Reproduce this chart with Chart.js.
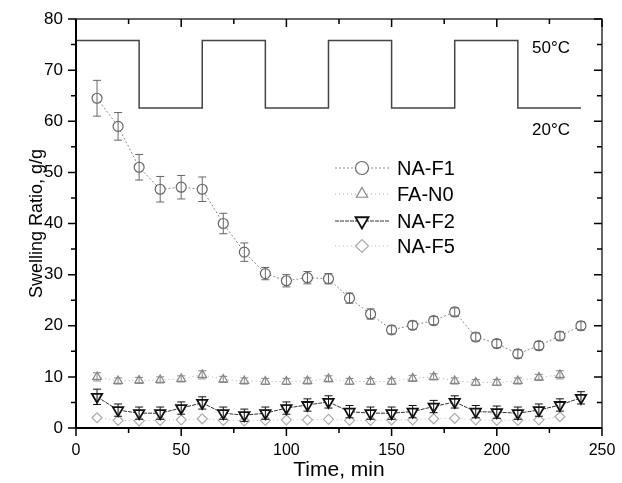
<!DOCTYPE html>
<html>
<head>
<meta charset="utf-8">
<script src="https://cdn.jsdelivr.net/npm/chart.js@4/dist/chart.umd.min.js"></script>
<style>
  html, body { margin: 0; padding: 0; background: #fff; }
  #wrap { width: 622px; height: 483px; }
</style>
</head>
<body>
<div id="wrap"><canvas id="chart" width="622" height="483"></canvas></div>
<script>
// --- data ---
const times = [10, 20, 30, 40, 50, 60, 70, 80, 90, 100, 110, 120,
               130, 140, 150, 160, 170, 180, 190, 200, 210, 220, 230, 240];

const naF1 = [64.5, 59, 51, 46.7, 47.1, 46.7, 40, 34.4, 30.2, 28.8, 29.4, 29.2,
              25.4, 22.3, 19.2, 20.1, 21, 22.7, 17.8, 16.5, 14.5, 16.1, 18, 20];
const naF1Err = [3.5, 2.7, 2.5, 2.5, 2.3, 2.4, 2, 1.8, 1.2, 1.2, 1.2, 1,
                 1, 1, 0.8, 0.8, 0.8, 0.8, 0.8, 0.8, 0.8, 0.8, 0.8, 0.8];

const faN0 = [10, 9.2, 9.3, 9.4, 9.6, 10.4, 9.5, 9.2, 9.1, 9.1, 9.2, 9.6,
              9.1, 9.1, 9.1, 9.7, 10, 9.2, 8.9, 8.9, 9.2, 9.9, 10.4];
const faN0Err = [0.8, 0.6, 0.6, 0.6, 0.6, 0.8, 0.6, 0.6, 0.6, 0.6, 0.6, 0.6,
                 0.6, 0.6, 0.6, 0.6, 0.6, 0.6, 0.6, 0.6, 0.6, 0.6, 0.8];

const naF2 = [6.1, 3.5, 2.9, 2.9, 3.9, 4.9, 2.9, 2.5, 2.9, 3.9, 4.5, 5.1,
              3.2, 2.9, 2.9, 3.2, 4.2, 5.1, 3.2, 3.1, 2.9, 3.5, 4.5, 5.9];
const naF2Err = [1.5, 1.2, 1.2, 1.2, 1.2, 1.2, 1.2, 1.2, 1.2, 1.2, 1.2, 1.2,
                 1.2, 1.2, 1.2, 1.2, 1.2, 1.2, 1.2, 1.2, 1.2, 1.2, 1.2, 1.2];

const naF5 = [2.0, 1.5, 1.4, 1.5, 1.6, 1.8, 1.5, 1.4, 1.5, 1.6, 1.6, 1.7,
              1.5, 1.5, 1.6, 1.6, 1.8, 1.9, 1.6, 1.5, 1.5, 1.6, 2.2];

// temperature program (stepped), 50 C high / 20 C low
const tempTimes = [0, 30, 60, 90, 120, 150, 180, 210, 240];
const tempLevels = [75.8, 62.6, 75.8, 62.6, 75.8, 62.6, 75.8, 62.6, 62.6];
const tempLabels = ['50°C', '20°C'];

const xTicks = [0, 50, 100, 150, 200, 250];
const yTicks = [0, 10, 20, 30, 40, 50, 60, 70, 80];

const FONT = '"Liberation Sans", Arial, sans-serif';

function pts(vals) {
    return vals.map((v, i) => ({ x: times[i], y: v }));
}

// frame, Origin-style ticks, error bars, legend and temperature labels
const decor = {
    id: 'decor',
    afterDatasetsDraw(chart) {
        const ctx = chart.ctx;
        const xs = chart.scales.x, ys = chart.scales.y;
        const a = chart.chartArea;

        // error bars
        const errs = { 1: naF1Err, 2: faN0Err, 3: naF2Err };
        Object.keys(errs).forEach(k => {
            const ds = chart.data.datasets[k];
            const e = errs[k];
            ctx.save();
            ctx.strokeStyle = ds.pointBorderColor;
            ctx.lineWidth = 1;
            ds.data.forEach((p, i) => {
                const px = xs.getPixelForValue(p.x);
                const top = ys.getPixelForValue(p.y + e[i]);
                const bot = ys.getPixelForValue(p.y - e[i]);
                ctx.beginPath();
                ctx.moveTo(px, top); ctx.lineTo(px, bot);
                ctx.moveTo(px - 4, top); ctx.lineTo(px + 4, top);
                ctx.moveTo(px - 4, bot); ctx.lineTo(px + 4, bot);
                ctx.stroke();
            });
            ctx.restore();
        });

        // frame
        ctx.save();
        ctx.strokeStyle = '#000';
        ctx.lineWidth = 1.2;
        ctx.strokeRect(a.left, a.top, a.right - a.left, a.bottom - a.top);
        ctx.lineWidth = 2;
        ctx.beginPath();
        ctx.moveTo(a.left, a.top); ctx.lineTo(a.left, a.bottom); ctx.lineTo(a.right, a.bottom);
        ctx.stroke();

        // ticks: out on bottom/left, in on top/right
        ctx.lineWidth = 1.5;
        ctx.beginPath();
        for (let v = 0; v <= 250; v += 25) {
            const px = xs.getPixelForValue(v);
            const len = v % 50 === 0 ? 8 : 5;
            ctx.moveTo(px, a.bottom); ctx.lineTo(px, a.bottom + len);
            ctx.moveTo(px, a.top); ctx.lineTo(px, a.top + len);
        }
        for (let v = 0; v <= 80; v += 5) {
            const py = ys.getPixelForValue(v);
            const len = v % 10 === 0 ? 8 : 5;
            ctx.moveTo(a.left, py); ctx.lineTo(a.left - len, py);
            ctx.moveTo(a.right, py); ctx.lineTo(a.right - len, py);
        }
        ctx.stroke();

        // temperature labels
        ctx.fillStyle = '#000';
        ctx.font = '17px ' + FONT;
        ctx.textBaseline = 'middle';
        ctx.textAlign = 'left';
        ctx.fillText(tempLabels[0], 532, 48);
        ctx.fillText(tempLabels[1], 532, 130);

        // legend
        const rows = [168, 194, 221, 246];
        const drawPoint = Chart.helpers && Chart.helpers.drawPoint;
        ctx.font = '20px ' + FONT;
        [1, 2, 3, 4].forEach((k, r) => {
            const ds = chart.data.datasets[k];
            const y = rows[r];
            ctx.save();
            ctx.strokeStyle = ds.borderColor;
            ctx.lineWidth = ds.borderWidth;
            ctx.setLineDash(ds.borderDash || []);
            ctx.beginPath();
            ctx.moveTo(335, y); ctx.lineTo(390, y);
            ctx.stroke();
            ctx.setLineDash([]);
            if (drawPoint) {
                ctx.strokeStyle = ds.pointBorderColor;
                ctx.fillStyle = '#fff';
                ctx.lineWidth = ds.pointBorderWidth;
                drawPoint(ctx, {
                    pointStyle: ds.pointStyle,
                    radius: ds.pointRadius + 1.5,
                    rotation: ds.pointRotation || 0,
                    borderWidth: ds.pointBorderWidth
                }, 362, y);
            }
            ctx.restore();
            ctx.fillStyle = '#000';
            ctx.fillText(ds.label, 397, y + 1);
        });
        ctx.restore();
    }
};

new Chart(document.getElementById('chart'), {
    type: 'line',
    data: {
        datasets: [
            {
                label: 'T',
                data: tempTimes.map((t, i) => ({ x: t, y: tempLevels[i] })),
                stepped: 'before',
                borderColor: '#444',
                borderWidth: 1.5,
                pointRadius: 0
            },
            {
                label: 'NA-F1',
                data: pts(naF1),
                borderColor: '#888',
                borderWidth: 1,
                borderDash: [2, 2],
                pointStyle: 'circle',
                pointRadius: 5,
                pointBorderColor: '#666',
                pointBackgroundColor: '#fff',
                pointBorderWidth: 1.2
            },
            {
                label: 'FA-N0',
                data: pts(faN0),
                borderColor: '#aaa',
                borderWidth: 1,
                borderDash: [1, 3],
                pointStyle: 'triangle',
                pointRadius: 5,
                pointBorderColor: '#888',
                pointBackgroundColor: '#fff',
                pointBorderWidth: 1.2
            },
            {
                label: 'NA-F2',
                data: pts(naF2),
                borderColor: '#333',
                borderWidth: 1,
                borderDash: [4, 1],
                pointStyle: 'triangle',
                pointRotation: 180,
                pointRadius: 6,
                pointBorderColor: '#111',
                pointBackgroundColor: '#fff',
                pointBorderWidth: 1.8
            },
            {
                label: 'NA-F5',
                data: pts(naF5),
                borderColor: '#bbb',
                borderWidth: 1,
                borderDash: [1, 3],
                pointStyle: 'rectRot',
                pointRadius: 5,
                pointBorderColor: '#aaa',
                pointBackgroundColor: '#fff',
                pointBorderWidth: 1.2
            }
        ]
    },
    options: {
        responsive: false,
        animation: false,
        layout: { padding: { left: 0, right: 20, top: 19, bottom: 0 } },
        plugins: { legend: { display: false }, tooltip: { enabled: false } },
        scales: {
            x: {
                type: 'linear',
                min: 0, max: 250,
                afterBuildTicks: s => { s.ticks = xTicks.map(v => ({ value: v })); },
                afterFit: s => { s.height = 55; },
                grid: { display: false },
                border: { display: false },
                ticks: { color: '#000', padding: 5, font: { family: FONT, size: 16 } },
                title: {
                    display: true, text: 'Time, min', color: '#000',
                    padding: { top: 0, bottom: 0 },
                    font: { family: FONT, size: 21 }
                }
            },
            y: {
                min: 0, max: 80,
                afterBuildTicks: s => { s.ticks = yTicks.map(v => ({ value: v })); },
                afterFit: s => { s.width = 76; },
                grid: { display: false },
                border: { display: false },
                ticks: { color: '#000', padding: 5, font: { family: FONT, size: 17 } },
                title: {
                    display: true, text: 'Swelling Ratio, g/g', color: '#000',
                    padding: { top: 26, bottom: 0 },
                    font: { family: FONT, size: 18 }
                }
            }
        }
    },
    plugins: [decor]
});
</script>
</body>
</html>
